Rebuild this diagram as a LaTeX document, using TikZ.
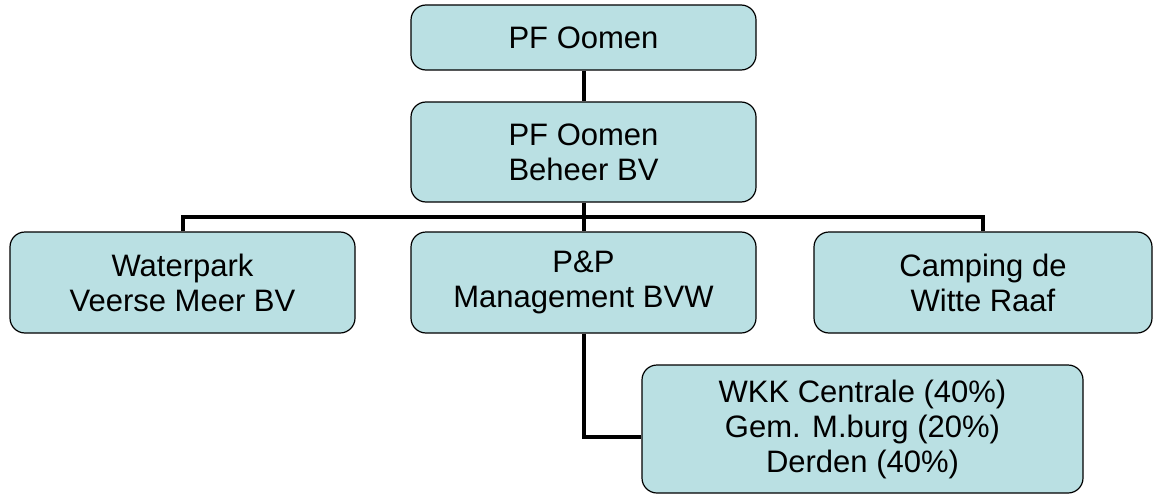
\documentclass[tikz,border=0pt]{standalone}
\usepackage{fontspec}
\setmainfont{Liberation Sans}
\definecolor{boxfill}{RGB}{186,224,227}

\tikzset{
	orgbox/.style={draw=black,fill=boxfill,rounded corners=15pt,line width=1.2pt,
		align=center,inner sep=0pt,font=\fontsize{31}{35}\selectfont},
	conn/.style={draw=black,line width=4pt}
}

\begin{document}
\begin{tikzpicture}[x=1pt,y=-1pt]
	\useasboundingbox (0,0) rectangle (1153,503);

	% top of the tree
	\node[orgbox,minimum width=345pt,minimum height=65pt] (oomen) at (583.5,37.5) {PF Oomen};
	\node[orgbox,minimum width=345pt,minimum height=100pt] (beheer) at (583.5,152) {PF Oomen\\Beheer BV};

	% second row
	\node[orgbox,minimum width=345pt,minimum height=101pt] (waterpark) at (182.5,282.5) {Waterpark\\Veerse Meer BV};
	\node[orgbox,minimum width=345pt,minimum height=101pt] (pp) at (583.5,282.5) {P\&P\\Management BVW};
	\node[orgbox,minimum width=338pt,minimum height=101pt] (camping) at (983,282.5) {Camping de\\Witte Raaf};

	% participations
	\node[orgbox,minimum width=441pt,minimum height=128pt] (wkk) at (862.5,429) {WKK Centrale (40\%)\\Gem. M.burg (20\%)\\Derden (40\%)};

	\coordinate (bus) at (583.5,217);

	\draw[conn] (oomen) -- (beheer);
	\draw[conn] (beheer.south) -- (pp.north);
	\draw[conn] (waterpark.north) -- (waterpark |- bus) -- (camping |- bus) -- (camping.north);
	\draw[conn] (pp.south) |- ([yshift=-8pt]wkk.west);
\end{tikzpicture}
\end{document}
